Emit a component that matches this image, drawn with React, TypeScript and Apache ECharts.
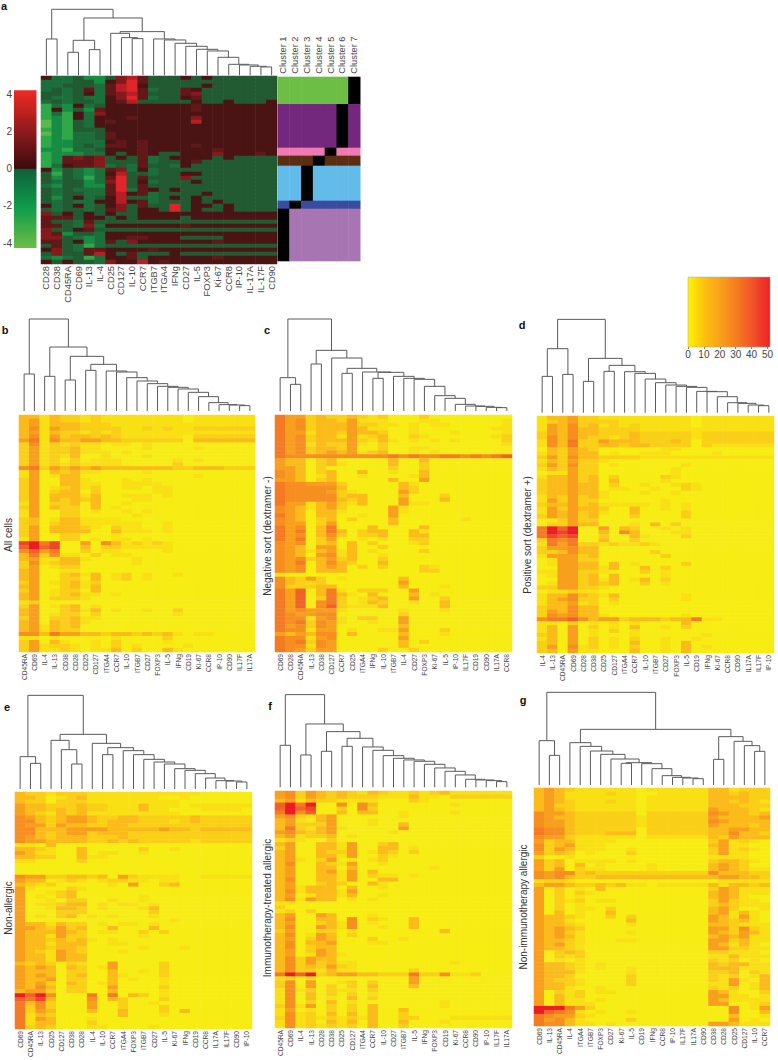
import React, { useEffect, useRef } from "react";
import * as echarts from "echarts";

// ---------- labels ----------
const colsA = ["CD28","CD38","CD45RA","CD69","IL-13","IL-4","CD25","CD127","IL-10","CCR7","ITGB7","ITGA4","IFNg","CD27","IL-5","FOXP3","Ki-67","CCR8","IP-10","IL-17A","IL-17F","CD90"];
const colsB = ["CD45RA","CD69","IL-4","IL-13","CD38","CD28","CD25","CD127","ITGA4","CCR7","IL-10","ITGB7","CD27","FOXP3","IL-5","IFNg","CD19","Ki-67","CCR8","IP-10","CD90","IL17F","IL17A"];
const colsC = ["CD69","CD28","CD45RA","IL-13","CD38","CD127","CCR7","CD25","ITGA4","IFNg","IL-10","ITGB7","IL-4","CD27","FOXP3","Ki-67","IL-5","IP-10","IL17F","CD19","CD90","IL17A","CCR8"];
const colsD = ["IL-4","IL-13","CD45RA","CD69","CD28","CD38","CD25","CD127","ITGA4","CCR7","IL-10","ITGB7","CD27","FOXP3","IL-5","CD19","IFNg","Ki-67","CCR8","CD90","IL17A","IL17F","IP-10"];
const colsE = ["CD69","CD45RA","IL-13","CD25","CD127","CD38","CD28","IL-4","IL-10","CCR7","ITGA4","FOXP3","ITGB7","CD27","IL-5","Ki-67","IFNg","CD19","CCR8","IL17A","IL17F","CD90","IP-10"];
const colsF = ["CD45RA","CD69","IL-4","IL-13","CD28","CD38","CD25","CD127","ITGA4","CCR7","IL-10","CD27","ITGB7","IL-5","IFNg","FOXP3","CD19","Ki-67","CCR8","CD90","IP-10","IL17F","IL17A"];
const colsG = ["CD69","IL-13","CD45RA","IL-4","ITGA4","ITGB7","FOXP3","CD27","Ki-67","IL-5","CD19","IFNg","CCR8","IP-10","IL17F","IL17A","CD90","CD38","CD28","CD25","CD127","IL-10","CCR7"];

const clusterNames = ["Cluster 1","Cluster 2","Cluster 3","Cluster 4","Cluster 5","Cluster 6","Cluster 7"];
const clusterColors = ["#6CBE45","#74287D","#EE7AB1","#5B2E12","#62BBE9","#3B4BA0","#A875B3"];
const clusterSizes = [82,131,24,30,105,24,157];

const signedTicks = [4,2,0,-2,-4];
const signedLevels: Record<string, number> = { a:-4.2, b:-3, c:-2, d:-1, e:-0.4, f:0.4, g:1, h:2, i:3, j:4 };
const signedColors: Record<string, string> = { a:"#5DB84A", b:"#2FA84A", c:"#178C45", d:"#1C6E3A", e:"#225A32", f:"#4A1414", g:"#601818", h:"#85191B", i:"#B81F24", j:"#E0262A" };
const heatScale = ["#F7EC13","#FAC31A","#F89B1E","#F47A24","#F0502A","#ED1C24"];
const heatLevels = [0,3,7,12,19,24,30,36,42,50];

// ---------- heat values: one string per row, one level per column ----------
const rowsA = [
"fddecc ehigee efefee eeee","dddeec fhjgee eeeeee eeee","ddeeed gijfee eeefee eeee","dedegd gijgde egfeee eeee",
"eedefd ghigee egheee eeee","eddedd fhjgde efgeee eeee","dedeed fgieee eefeef eeef","bdcfde ffffff ffgfff ffff",
"bfcecg ffffff ffgfff ffff","bdbfdh ffffff ffffff ffff","bcbfdf ffgfff ffhfff ffff","acbedf gfffff ffifff ffff",
"acbedf ffffff ffffff ffff","bcbeee ffffff ffffff ffff","acbdde gfffff ffffff ffff","bcbdde gfffff ffffff ffff",
"bccddd fgfgff ffffff ffff","bccded ggfgff ffgfff ffff","ccbdde fffgff ffffgf ffff","bcccdd fefgfe efffhf ffgf",
"bcghgh efegde ffffef eeee","bcgggh eeegde efgeee eeee","bdfggh dedgee dfeeee eeee","fcedcd ghdfde eeeeee eeee",
"ebedcd fieede effeee eeee","ecedbd gjegee eheeee eeee","edeecd hjefde eefeee eeee","dceecc gjegee eeeeee eeee",
"ededdd gjdgfe feeeee eeee","edeedd gifgde eeefee eeee","ecefde fieede fefeee eeee","ededdf fifgde eefefe eeee",
"fdefde fhegee jeffef eeee","edeede gheffe jefeef eeee","hefefe feefff ffffff ffff","gggeff efefff feffff ffff",
"geedge eeeeee eeeeee eeee","ggedhd ffffff fgffff ffff","heefge eeeeee eeeeee eeee","hgceed ffffff ffffff ffff",
"hhedcd ffggff feeeef ffff","ggefcd gehfff ffffgf ffff","egedbd eeeeee eeeeee eeee","fhedgg ffffgf ffffff ffff",
"eheegi fegeee feeeee eeee","dcdebd ffgeff ffffgf ffff","fefeed hffifg ffffff ffff",
];
const rowsB = [
"331322 121111 11110 111111","341322 121111 11110 111111","341333 222111 11111 111111","351433 222211 21211 222222",
"341322 121211 11111 111111","351423 323211 11110 222222","461533 443322 22220 333333","251212 110110 10000",
"241223 110000 10000 1","241223 111010","241213 001000 1","241202 011100 00010 1",
"241212 111100 00020","562434 343333 33322 333222","140323 110000 1","140133 000000 00000 1",
"240033 100010 1","240033 110011 11","240123 120011 011","240233 020000 011 ",
"240333 130011 101","240323 230001 1","140223 030010","240322 030100",
"140022 010010 1","140022 000001","230133 111100","230233 111111 001",
"240333 210211 001","240333 300311 101","240022 000100","140022 010110 1",
"896800 405312 12100","797800 302211 11100","574600 201100 00100","362511 020110",
"341133 100001","251233 000001","240122 000000","340011",
"340023 130120 10010","340022 030120 1","240123 120000","340023 130000",
"240122 030000","340123 110100","340222 100000","120000",
"240123 010000","340023 130100 10020","340122 020000 00010","240223 110000",
"340323 100000","341323","341322","553644 332332 32310 11",
"110100 000100 002","240310 010200 001","241221 010201 00001","241121 011302 00310",
];
const rowsC = [
"644232 232120 00200","645233 241110 00110 000001","645233 342211 01011 000001","645233 343110 01000 000011",
"644133 243320 01000 1 00001","645233 141230 02100 000012","645233 342131 01010 100002","645132 241020 00000 000001",
"645233 240020 01100","645234 341230 01010","655555 555556 56556 656567","433023 000003 003",
"433023 100003 002","443020 000002 002","543023 003001 003","543013 001000 013",
"443023 000003 004","655444 200000 31","655555 300000 32","655554 210000 42",
"655555 233000 30002","655555 323000 40003","644134 213000 411","543134 200004 1",
"543033 100004 1","643033 001004","543023 020003 00000 01","544024 000003",
"645036 000300 003","646036 302330 031","645035 202230 033","646024 001010 022",
"545023 030200 012","543044 030020","543134 130100 002","543045 130010",
"545234 230020","546035 320030","545034 302020 002 1","545033 300000 002 2",
"100000","532420 100000 3","532120 000000 4","522233 000000 3 0 001",
"647036 102220 04","647036 310300 03010","647026 201230 04002","647056 201320 01003",
"647057 211130 00003","645444 100000 10001","654455 000000 2","655145 102200 4",
"656254 100100 4","645254 000000 3","655144 010011 40002","434355 030000 30001",
"655145 000000 4","656254 000000 302","655154 000000 3","654244 000020 02",
];
const rowsD = [
"133422 111111 11101 111111","123422 221111 11101 111111","143523 121211 11101 111111","143533 222211 11111 111111",
"243533 222322 22212 222222","253532 212322 22212 222222","153622 433322 23202 222222","153622 332332 22202 111111",
"032432 000000 11","132433 010011 10000 1","242533 222211 11111 111111","132422 100000",
"242522 010000 001","132422 000000 01","011422 000000 01","133423 020000 21",
"233423 030000 1","233433 020010 012 1","233433 011001 002 1","233433 100010 01",
"132423 1","142422 000000 1","233423 111110 101","142433 200300 101",
"143423 100300 002","243423 000200 002","002422","022433 000103 02",
"697900 403200 101","698900 305300 011","687800 200310 002","265600 300200",
"164622 121121","244533","223533 000002","144423 000000 2",
"014422","014433 030100 002","004433 130030 2","114422 100020 1",
"014423 030000 1","004423 130130 2","014423 230020 1","224422 1",
"011211","133532 130000 001","134522 020000 001","133412 01",
"233533","243533","254533 1 00000 001","566753 442333 23361 1",
"110201 010100 003","130402 010300 102","130401 020100","230401 000100 00001",
"130402 010200 10010","230402 010300 103","240512 010200 10301","230411 000300 103",
];
const rowsE = [
"322122 211111 11111 1","332012 311111 11001","322022 211111 1111","433222 322111 31110 111111",
"433232 322111 31100 01111","432132 311111 1111","543234 432233 22222 322222","553234 432333 22212 322222",
"544243 322332 22222 222222","553334 444333 33433 233333","553234 423332 22222 222222","543233 322232 22222 222222",
"544333 322323 22222 122222","1103","332100 300000 20010","431100 301100 1",
"332200 311000","11 0000 2","","",
"","544223 323042 11110 011111","433012 101221 10110","321200 000104 0023",
"410002 1","400123","401023 000000 1","400102 200100 1",
"401123 301011 01","400133 201000 13","400022 200000 02","401023 010100 01",
"400000 000000 00010","433132 201011 01","443242 300300 03","433343 201100 2 02",
"433142 200000 1","433232 310100","433133 300110","433233 200000 1 0001",
"432143 200010","433143 3","433143 3","323202 100400 002",
"434303 201400 002","433302 200300 102","434302 300310 002","433402 200301 001",
"434203 201300 001","435302 200400 002","344202 200300 001","979500 060603 201",
"768300 050320 002","635200 040020 01","625200 040020 002","624300 030030 00203",
"613200 000030 001","6143 000100","613300 02","623200 011000 01",
];
const rowsF = [
"452432 321321 12123 111111","452432 322211 13110 222222","341322 111100 02 1","796900 505300 00000 1",
"797800 205200","695700 303300 10000 1","452134 000000 1","341034 000100",
"342224 000100 3","362134 100000 4","453234 000001","341223 01",
"121002","340033 140023","240033 140033 01","340032 240132 02",
"340033 140021","341024 010120","350032 140010","340033 03 0 0 0 0 0 0 0 1",
"340034 140300","340033 140211 01","350033 140033","340023 200310",
"341333 030010","351333 14","340133 130010","351433 0101",
"11","2","1202","340043 000100",
"350033 050210 03","340023 150100 03","350043 150010 03","240022 010000 00003",
"350143 02","340243 000200 1","350334 000110","350233",
"340243","340143 1","352433","352423 11 0000 0 0 0 0 0 1",
"352324 21","352213 110000 02","697923 443322 26225 112","110100 000000 04",
"250400 120200 04","250402 020300 03","151202 110200","150302 020100",
"150301 030200","150203 010000 00001","251402 020300 00001","140102 020300 3",
"151203 030300 2","251212 121300 22000 111111","151203 130300 30001","151212 120300 2",
];
const rowsG = [
"343211 111101 111113 31222","343111 121100 111113 32322","343111 111101 111113 33322","343211 121101 111113 32321",
"342211 111101 111113 33222","343211 111101 111114 33321","544322 222202 222225 43323","543322 222212 222224 33334",
"544322 222212 222225 43333","544322 222212 222224 33323","655322 222202 222223 34433","655322 233302 222223 35332",
"544211 111101 111113 24333","423311 110000 000002 41210","523411 100000 000003 41100","524311 100100 000002 41210",
"423201 000200 000002 41100","200100 000000 000001 11100","423011 110100 000002 33210","423030 100001 000003 43200",
"424021 100001 000003 43211","545523 222222 222225 33322","545322 333333 333333 44332","122100 000000 000000 11111",
"344322 323110 111113 13323","402010 300000 000002 43111","402021 000000 000003 43111","402010 000000 000003 43100",
"402120 110000 000002 42110","402010 000000 000002 32111","402011 020000 000003 42001","403010 030000 000003 41310",
"433210 020200 000004 31410","433100 000300 000004 32310","433210 000100 000003 32111","434320 000000 000004 42521",
"434210 000100 000004 32431","434310 000000 000003 43411","433210 001100 000004 42311","434210 000000 000004 31310",
"433210 000000 000004 42211","402320 000000 000002 21110","402120 000000 000001 13111","401010 000000 000002 12010",
"433210 100000 000003 23311","433210 100100 000003 33111","433310 000100 000002 23021","433200 000200 000002 12013",
"432210 000200 000002 14103","433210 000200 000001 14013","433100 100000 000002 12013","402120 110000 000004 31002",
"403120 000000 000004 41101","403110 100000 000004 31111","403111 000000 000004 40012","999642 000000 000000 05014",
"976510 100100 000000 05003","654421 000000 000000 03001","645310 000200 000000 04010","655311 010000 000004 43111",
];

// ---------- dendrogram merge heights: [height, left, right], 0 is a leaf ----------
type Tree = number | [number, Tree, Tree];
const ladder = (hs: number[]): Tree => {
  let node: Tree = 0;
  hs.slice().reverse().forEach((h) => { node = [h, 0, node]; });
  return node;
};
const treeA: Tree = [198,[109,0,0],[172,[105,[69,0,0],[77,0,0]],[131,[126,0,[113,0,[110,0,0]]],ladder([109,106,96,87,78,73,54,33,31,27,25])]]];
const treeB: Tree = [276,[111,0,0],[192,[104,0,0],[164,[93,0,0],[140,[122,0,0],ladder([120,117,100,90,82,74,71,66,56,43,25,19,18,16])]]]];
const treeC: Tree = [276,[100,0,[80,0,0]],[182,[141,0,0],[159,0,[128,[113,0,0],[117,0,[116,[98,0,0],[104,0,ladder([98,95,74,46,38,20,15,14,11,10])]]]]]]];
const treeD: Tree = [280,[192,[109,0,0],[115,0,0]],[163,[94,0,0],[142,[124,0,0],ladder([123,118,101,90,83,79,76,64,63,48,30,28,23,21])]]];
const treeE: Tree = [281,[97,0,[77,0,0]],[164,[146,0,[118,0,[75,0,0]]],[137,0,[124,[103,0,0],ladder([115,103,89,81,75,61,56,46,33,25,24,21])]]]];
const treeF: Tree = [278,[126,0,0],[190,[97,0,0],[167,[108,0,0],[147,[123,0,0],ladder([121,111,95,87,82,78,69,58,48,37,24,22,20,17])]]]];
const treeG: Tree = [278,[133,0,[89,0,0]],[167,[127,0,[116,0,[102,0,[92,0,[78,0,[67,[65,0,0],[64,0,[49,0,[28,0,[23,0,[21,0,[19,0,0]]]]]]]]]]]],[145,[77,0,0],[131,0,[118,0,[101,0,0]]]]]];

// ---------- panels layout ----------
const panels = [
  { id:"a", cols:colsA, rows:rowsA, tree:treeA, signed:true,  left:41,  top:76,  w:236, h:188, base:75.3,  font:9.3 },
  { id:"b", cols:colsB, rows:rowsB, tree:treeB, signed:false, left:19,  top:415, w:236, h:237, base:411,   font:6.6 },
  { id:"c", cols:colsC, rows:rowsC, tree:treeC, signed:false, left:275, top:415, w:237, h:237, base:411,   font:6.6 },
  { id:"d", cols:colsD, rows:rowsD, tree:treeD, signed:false, left:537, top:416, w:237, h:237, base:412.7, font:6.6 },
  { id:"e", cols:colsE, rows:rowsE, tree:treeE, signed:false, left:15,  top:792, w:237, h:238, base:789,   font:6.6 },
  { id:"f", cols:colsF, rows:rowsF, tree:treeF, signed:false, left:275, top:791, w:237, h:237, base:787.3, font:6.6 },
  { id:"g", cols:colsG, rows:rowsG, tree:treeG, signed:false, left:534, top:788, w:236, h:238, base:785,   font:6.6 },
];
const sideLabels = [
  { text:"All cells", x:8, y:535 },
  { text:"Negative sort (dextramer -)", x:267, y:536 },
  { text:"Positive sort (dextramer +)", x:527, y:535 },
  { text:"Non-allergic", x:8, y:908 },
  { text:"Immunotherapy-treated allergic", x:267, y:908 },
  { text:"Non-immunotherapy allergic", x:523, y:907 },
];
const panelLetters = [
  { text:"a", x:4, y:6 }, { text:"b", x:5, y:330 }, { text:"c", x:267, y:330 }, { text:"d", x:522, y:325 },
  { text:"e", x:7, y:707 }, { text:"f", x:270, y:706 }, { text:"g", x:523, y:700 },
];

const FONT = "'Liberation Sans', Arial, sans-serif";
const NARROW = "'Liberation Sans Narrow', 'Liberation Sans', Arial, sans-serif";

function mergeSegments(tree: Tree, n: { i: number }, out: number[][]): [number, number] {
  if (typeof tree === "number") { const x = n.i + 0.5; n.i += 1; return [x, 0]; }
  const [h, l, r] = tree;
  const a = mergeSegments(l, n, out);
  const b = mergeSegments(r, n, out);
  out.push([a[0], a[1], b[0], b[1], h]);
  return [(a[0] + b[0]) / 2, h];
}

function decode(row: string, size: number): string {
  return row.replace(/ /g, "").padEnd(size, "0").slice(0, size);
}

function buildOption() {
  const grid: any[] = [], xAxis: any[] = [], yAxis: any[] = [], series: any[] = [];
  const yellowIdx: number[] = [], signedIdx: number[] = [];
  const hidden = { show:false };
  const addGrid = (left:number, top:number, width:number, height:number, x:any, y:any) => {
    const idx = grid.length;
    grid.push({ left, top, width, height, containLabel:false });
    xAxis.push({ gridIndex:idx, ...x });
    yAxis.push({ gridIndex:idx, ...y });
    return idx;
  };

  panels.forEach((p) => {
    // heatmap
    const nr = p.rows.length, nc = p.cols.length;
    const gi = addGrid(p.left, p.top, p.w, p.h,
      { type:"category", data:p.cols, axisLine:hidden, axisTick:hidden, splitLine:hidden,
        axisLabel:{ interval:0, rotate:90, margin:2, fontSize:p.font, color:"#444", fontFamily:p.signed?FONT:NARROW, hideOverlap:false } },
      { type:"category", inverse:true, data:p.rows.map((_, i) => String(i)), show:false });
    const data: number[][] = [];
    p.rows.forEach((row, r) => {
      const s = decode(row, nc);
      for (let c = 0; c < nc; c++) {
        data.push([c, r, p.signed ? signedLevels[s[c] === "0" ? "e" : s[c]] : heatLevels[Number(s[c])]]);
      }
    });
    (p.signed ? signedIdx : yellowIdx).push(series.length);
    series.push({ type:"heatmap", xAxisIndex:gi, yAxisIndex:gi, data, silent:true, progressive:0, itemStyle:{ borderWidth:0 } });

    // dendrogram
    const segs: number[][] = [];
    mergeSegments(p.tree, { i:0 }, segs);
    const rootH = (p.tree as any)[0] as number;
    const hPx = rootH / 3;
    const di = addGrid(p.left, p.base - hPx, p.w, hPx,
      { type:"value", min:0, max:nc, show:false },
      { type:"value", min:0, max:rootH, show:false });
    series.push({
      type:"custom", coordinateSystem:"cartesian2d", xAxisIndex:di, yAxisIndex:di, data:segs, silent:true, clip:false,
      renderItem: (_: any, api: any) => {
        const pts = [
          api.coord([api.value(0), api.value(1)]),
          api.coord([api.value(0), api.value(4)]),
          api.coord([api.value(2), api.value(4)]),
          api.coord([api.value(2), api.value(3)]),
        ];
        return { type:"polyline", shape:{ points:pts }, style:{ fill:null, stroke:"#5a5a5a", lineWidth:1 } };
      },
    });
  });

  // cluster membership bars of panel a
  const total = clusterSizes.reduce((s, v) => s + v, 0);
  const ci = addGrid(277.5, 76.7, 82.5, 184.3,
    { type:"category", position:"top", data:clusterNames, axisLine:hidden, axisTick:hidden,
      axisLabel:{ interval:0, rotate:90, margin:3, fontSize:9.3, color:"#444", fontFamily:FONT } },
    { type:"value", inverse:true, min:0, max:total, show:false });
  const clusterData: number[][] = [];
  let start = 0;
  clusterSizes.forEach((size, k) => {
    clusterNames.forEach((_, j) => clusterData.push([j, start, start + size, k]));
    start += size;
  });
  series.push({
    type:"custom", coordinateSystem:"cartesian2d", xAxisIndex:ci, yAxisIndex:ci, data:clusterData, silent:true,
    renderItem: (_: any, api: any) => {
      const j = api.value(0), k = api.value(3);
      const a = api.coord([j, api.value(1)]), b = api.coord([j, api.value(2)]);
      const w = api.size([1, 0])[0];
      return { type:"rect", shape:{ x:a[0] - w / 2, y:a[1], width:w + 0.5, height:b[1] - a[1] + 0.3 },
        style:{ fill: j === 6 - k ? "#000" : clusterColors[k], stroke:null } };
    },
  });

  // signed colour key
  const ki = addGrid(14, 94, 22.5, 149,
    { type:"value", min:0, max:1, show:false },
    { type:"value", min:-4, max:4, interval:2, axisLine:hidden, axisTick:hidden, splitLine:hidden,
      axisLabel:{ margin:2, fontSize:10, color:"#444", fontFamily:FONT, customValues:signedTicks } });
  series.push({
    type:"custom", coordinateSystem:"cartesian2d", xAxisIndex:ki, yAxisIndex:ki, data:[[0, 1, -4.27, 4.2]], silent:true, clip:false,
    renderItem: (_: any, api: any) => {
      const a = api.coord([api.value(0), api.value(3)]), b = api.coord([api.value(1), api.value(2)]);
      return { type:"rect", shape:{ x:a[0], y:a[1], width:b[0] - a[0], height:b[1] - a[1] },
        style:{ stroke:null, fill:new echarts.graphic.LinearGradient(0, 0, 0, 1, [
          { offset:0, color:"#EE2A24" }, { offset:0.26, color:"#8F1A1C" }, { offset:0.495, color:"#3A0C0C" },
          { offset:0.5, color:"#10603A" }, { offset:0.74, color:"#0E9B4A" }, { offset:1, color:"#6CBE45" },
        ]) } };
    },
  });

  // yellow-red colour key
  const yi = addGrid(688, 277, 79.5, 70,
    { type:"value", min:0, max:50, interval:10, splitLine:hidden,
      axisLine:{ show:false }, axisTick:{ show:true, length:2, lineStyle:{ color:"#777" } },
      axisLabel:{ margin:2, fontSize:10, color:"#444", fontFamily:FONT } },
    { type:"value", min:0, max:1, show:false });
  series.push({
    type:"custom", coordinateSystem:"cartesian2d", xAxisIndex:yi, yAxisIndex:yi, data:[[0, 51.6, 0, 1]], silent:true, clip:false,
    renderItem: (_: any, api: any) => {
      const a = api.coord([api.value(0), api.value(3)]), b = api.coord([api.value(1), api.value(2)]);
      return { type:"rect", shape:{ x:a[0], y:a[1], width:b[0] - a[0], height:b[1] - a[1] },
        style:{ stroke:"#aaa", lineWidth:0.5, fill:new echarts.graphic.LinearGradient(0, 0, 1, 0, [
          { offset:0, color:"#FFF200" }, { offset:0.2, color:"#FDC010" }, { offset:0.4, color:"#F9A01B" },
          { offset:0.6, color:"#F47B20" }, { offset:0.8, color:"#F1502A" }, { offset:1, color:"#ED2024" },
        ]) } };
    },
  });

  const graphic = [
    ...sideLabels.map((s) => ({ type:"text", x:s.x, y:s.y, rotation:Math.PI / 2, silent:true,
      style:{ text:s.text, fontSize:10, fill:"#333", fontFamily:FONT, align:"center", verticalAlign:"middle" } })),
    ...panelLetters.map((s) => ({ type:"text", x:s.x, y:s.y, silent:true,
      style:{ text:s.text, fontSize:11, fontWeight:"bold", fill:"#111", fontFamily:FONT, align:"center", verticalAlign:"middle" } })),
  ];

  return {
    animation:false,
    backgroundColor:"#fff",
    grid, xAxis, yAxis, series, graphic,
    visualMap: [
      { type:"continuous", show:false, min:0, max:50, dimension:2, seriesIndex:yellowIdx, inRange:{ color:heatScale } },
      { type:"piecewise", show:false, dimension:2, seriesIndex:signedIdx,
        pieces:Object.keys(signedLevels).map((k) => ({ value:signedLevels[k], color:signedColors[k] })) },
    ],
  };
}

export default function App() {
  const ref = useRef<HTMLDivElement>(null);
  useEffect(() => {
    const chart = echarts.init(ref.current!, undefined, { renderer:"svg" });
    chart.setOption(buildOption() as any);
    return () => chart.dispose();
  }, []);
  return <div ref={ref} style={{ position:"absolute", left:0, top:0, width:778, height:1060 }} />;
}
